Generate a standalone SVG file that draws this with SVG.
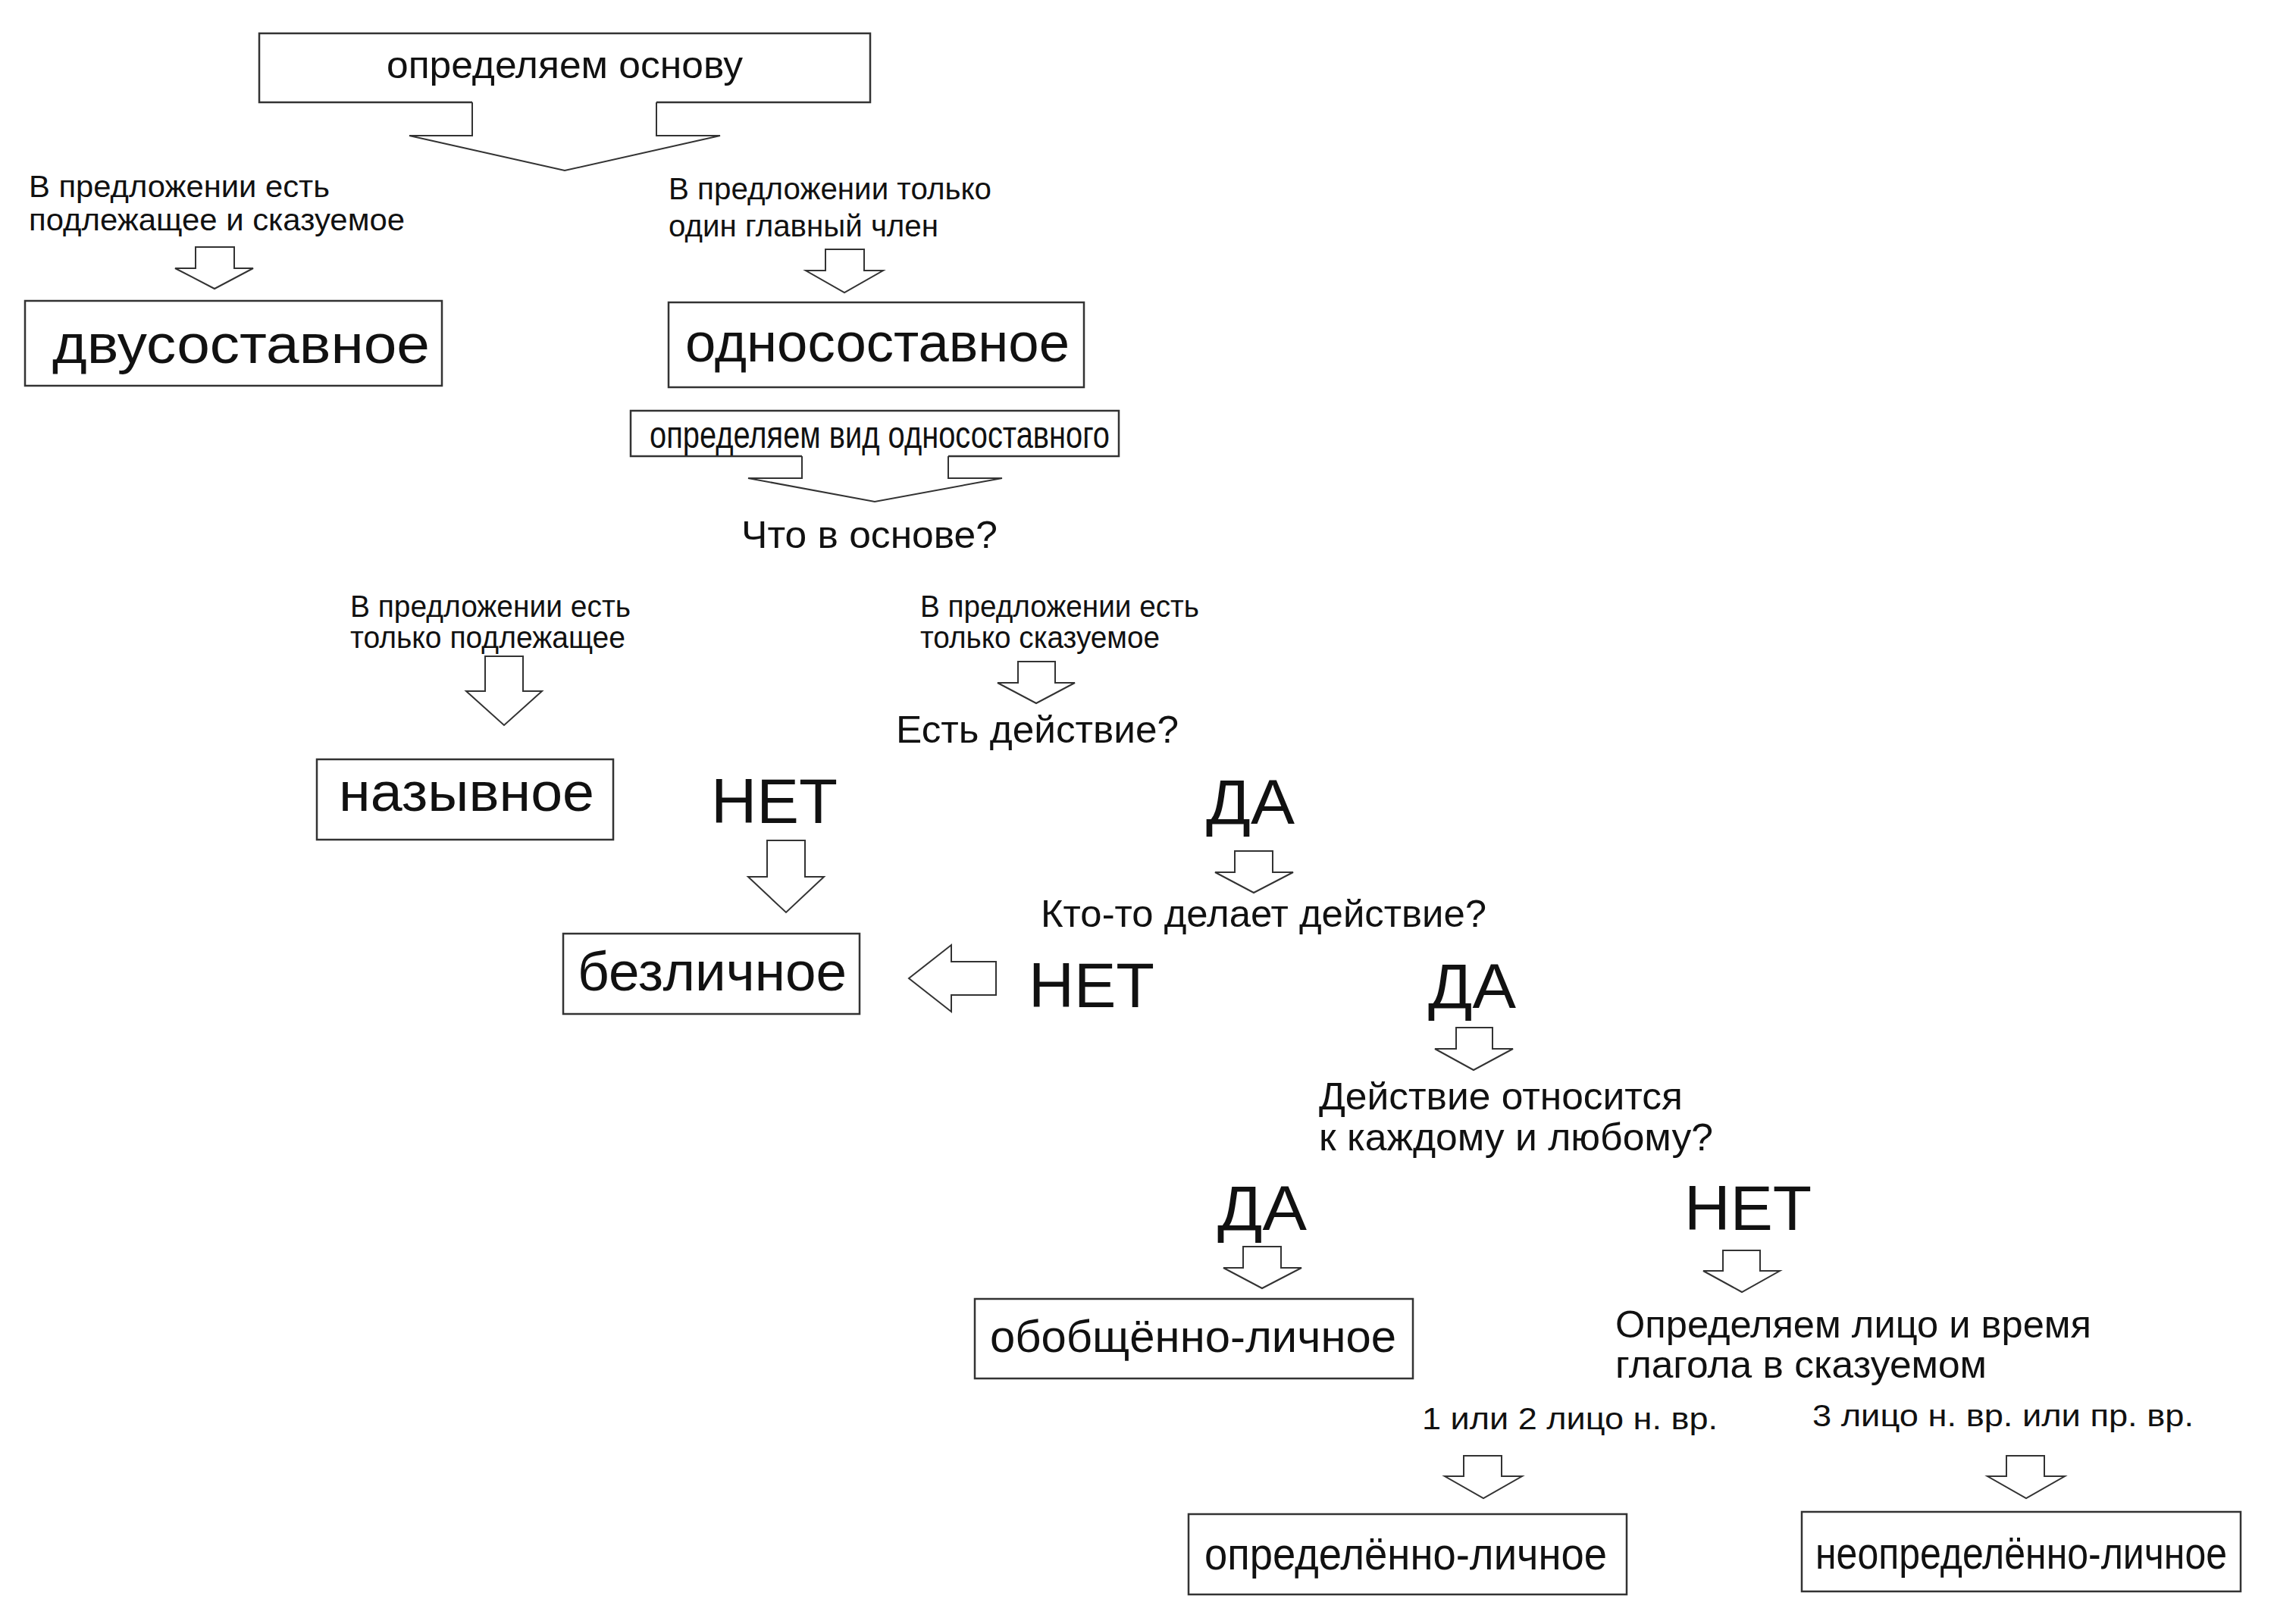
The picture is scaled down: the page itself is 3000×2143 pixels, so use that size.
<svg xmlns="http://www.w3.org/2000/svg" width="3000" height="2143" viewBox="0 0 3000 2143">
<style>
.bg{fill:#fff}
.box{fill:#fff;stroke:#333;stroke-width:2.5}
.arr{fill:#fff;stroke:#333;stroke-width:2;stroke-linejoin:miter}
text{font-family:"Liberation Sans",Arial,sans-serif;fill:#111}
.q{font-size:50px}
.s{font-size:40px}
.b{font-size:73px}
.y{font-size:84px}
.m{font-size:60px}
</style>
<rect class="bg" x="0" y="0" width="3000" height="2143"/>

<g id="connectors">
  <path class="arr" d="M623,135 V179 H540 L745,225 L950,179 H866 V135"/>
  <path class="arr" d="M258,326 V354 H231 L283,381 L334,354 H309 V326 Z"/>
  <path class="arr" d="M1089,329 V357 H1063 L1114,386 L1165,357 H1140 V329 Z"/>
  <path class="arr" d="M1058,602 V631 H987 L1154,662 L1322,631 H1251 V602"/>
  <path class="arr" d="M640,866 V912 H615 L665,957 L715,912 H690 V866 Z"/>
  <path class="arr" d="M1343,873 V901 H1316 L1367,928 L1418,901 H1392 V873 Z"/>
  <path class="arr" d="M1012,1109 V1157 H987 L1037,1204 L1087,1157 H1062 V1109 Z"/>
  <path class="arr" d="M1629,1123 V1151 H1603 L1654,1178 L1706,1151 H1679 V1123 Z"/>
  <path class="arr" d="M1314,1269 H1255 V1247 L1199,1291 L1255,1335 V1313 H1314 Z"/>
  <path class="arr" d="M1921,1356 V1384 H1893 L1944,1412 L1996,1384 H1969 V1356 Z"/>
  <path class="arr" d="M1640,1645 V1673 H1614 L1665,1700 L1717,1673 H1690 V1645 Z"/>
  <path class="arr" d="M2273,1650 V1677 H2247 L2298,1705 L2348,1677 H2322 V1650 Z"/>
  <path class="arr" d="M1931,1921 V1948 H1906 L1957,1977 L2008,1948 H1981 V1921 Z"/>
  <path class="arr" d="M2647,1921 V1948 H2622 L2673,1977 L2724,1948 H2697 V1921 Z"/>
</g>

<g id="n-osnova">
  <path class="box" fill="none" d="M623,135 H342 V44 H1148 V135 H866"/>
  <text class="q" x="510" y="103" font-size="52" textLength="470" lengthAdjust="spacingAndGlyphs">определяем основу</text>
</g>

<g id="l-dvusost">
  <text class="s" x="38" y="260" textLength="397" lengthAdjust="spacingAndGlyphs">В предложении есть</text>
  <text class="s" x="38" y="304" textLength="496" lengthAdjust="spacingAndGlyphs">подлежащее и сказуемое</text>
</g>

<g id="l-odnosost">
  <text class="s" x="882" y="263" textLength="426" lengthAdjust="spacingAndGlyphs">В предложении только</text>
  <text class="s" x="882" y="312" textLength="356" lengthAdjust="spacingAndGlyphs">один главный член</text>
</g>

<g id="n-dvusost">
  <rect class="box" x="33" y="397" width="550" height="112"/>
  <text class="b" x="69" y="479" font-size="76" textLength="498" lengthAdjust="spacingAndGlyphs">двусоставное</text>
</g>

<g id="n-odnosost">
  <rect class="box" x="882" y="399" width="548" height="112"/>
  <text class="b" x="904" y="477" textLength="507" lengthAdjust="spacingAndGlyphs">односоставное</text>
</g>

<g id="n-vid">
  <path class="box" fill="none" d="M1058,602 H832 V542 H1476 V602 H1251"/>
  <text class="q" x="857" y="591" font-size="48" textLength="607" lengthAdjust="spacingAndGlyphs">определяем вид односоставного</text>
</g>

<g id="q-osnova">
  <text class="q" x="978" y="723" textLength="338" lengthAdjust="spacingAndGlyphs">Что в основе?</text>
</g>

<g id="l-podl">
  <text class="s" x="462" y="814" font-size="39" textLength="370" lengthAdjust="spacingAndGlyphs">В предложении есть</text>
  <text class="s" x="462" y="855" font-size="39" textLength="363" lengthAdjust="spacingAndGlyphs">только подлежащее</text>
</g>

<g id="l-skaz">
  <text class="s" x="1214" y="814" font-size="39" textLength="368" lengthAdjust="spacingAndGlyphs">В предложении есть</text>
  <text class="s" x="1214" y="855" font-size="39" textLength="316" lengthAdjust="spacingAndGlyphs">только сказуемое</text>
</g>

<g id="q-deistvie">
  <text class="q" x="1182" y="980" textLength="373" lengthAdjust="spacingAndGlyphs">Есть действие?</text>
</g>

<g id="n-nazyv">
  <rect class="box" x="418" y="1002" width="391" height="106"/>
  <text class="b" x="447" y="1070" textLength="337" lengthAdjust="spacingAndGlyphs">назывное</text>
</g>

<g id="a-net1">
  <text class="y" x="938" y="1086" textLength="167" lengthAdjust="spacingAndGlyphs">НЕТ</text>
</g>

<g id="a-da1">
  <text class="y" x="1591" y="1087" textLength="117" lengthAdjust="spacingAndGlyphs">ДА</text>
</g>

<g id="q-kto">
  <text class="q" x="1373" y="1223" textLength="588" lengthAdjust="spacingAndGlyphs">Кто-то делает действие?</text>
</g>

<g id="n-bezl">
  <rect class="box" x="743" y="1232" width="391" height="106"/>
  <text class="b" x="762" y="1307" textLength="355" lengthAdjust="spacingAndGlyphs">безличное</text>
</g>

<g id="a-net2">
  <text class="y" x="1357" y="1329" textLength="166" lengthAdjust="spacingAndGlyphs">НЕТ</text>
</g>

<g id="a-da2">
  <text class="y" x="1884" y="1330" textLength="116" lengthAdjust="spacingAndGlyphs">ДА</text>
</g>

<g id="q-kazhd">
  <text class="q" x="1740" y="1464" textLength="480" lengthAdjust="spacingAndGlyphs">Действие относится</text>
  <text class="q" x="1740" y="1518" textLength="520" lengthAdjust="spacingAndGlyphs">к каждому и любому?</text>
</g>

<g id="a-da3">
  <text class="y" x="1606" y="1623" textLength="118" lengthAdjust="spacingAndGlyphs">ДА</text>
</g>

<g id="a-net3">
  <text class="y" x="2222" y="1623" textLength="168" lengthAdjust="spacingAndGlyphs">НЕТ</text>
</g>

<g id="n-obobshch">
  <rect class="box" x="1286" y="1714" width="578" height="105"/>
  <text class="m" x="1306" y="1784" textLength="536" lengthAdjust="spacingAndGlyphs">обобщённо-личное</text>
</g>

<g id="q-lico">
  <text class="q" x="2131" y="1765" textLength="628" lengthAdjust="spacingAndGlyphs">Определяем лицо и время</text>
  <text class="q" x="2131" y="1818" textLength="490" lengthAdjust="spacingAndGlyphs">глагола в сказуемом</text>
</g>

<g id="l-12">
  <text class="s" x="1876" y="1886" font-size="44" textLength="390" lengthAdjust="spacingAndGlyphs">1 или 2 лицо н. вр.</text>
</g>

<g id="l-3">
  <text class="s" x="2391" y="1882" font-size="44" textLength="503" lengthAdjust="spacingAndGlyphs">3 лицо н. вр. или пр. вр.</text>
</g>

<g id="n-opred">
  <rect class="box" x="1568" y="1998" width="578" height="106"/>
  <text class="m" x="1589" y="2071" font-size="57" textLength="531" lengthAdjust="spacingAndGlyphs">определённо-личное</text>
</g>

<g id="n-neopred">
  <rect class="box" x="2377" y="1995" width="579" height="105"/>
  <text class="m" x="2395" y="2070" font-size="52" textLength="543" lengthAdjust="spacingAndGlyphs">неопределённо-личное</text>
</g>
</svg>
